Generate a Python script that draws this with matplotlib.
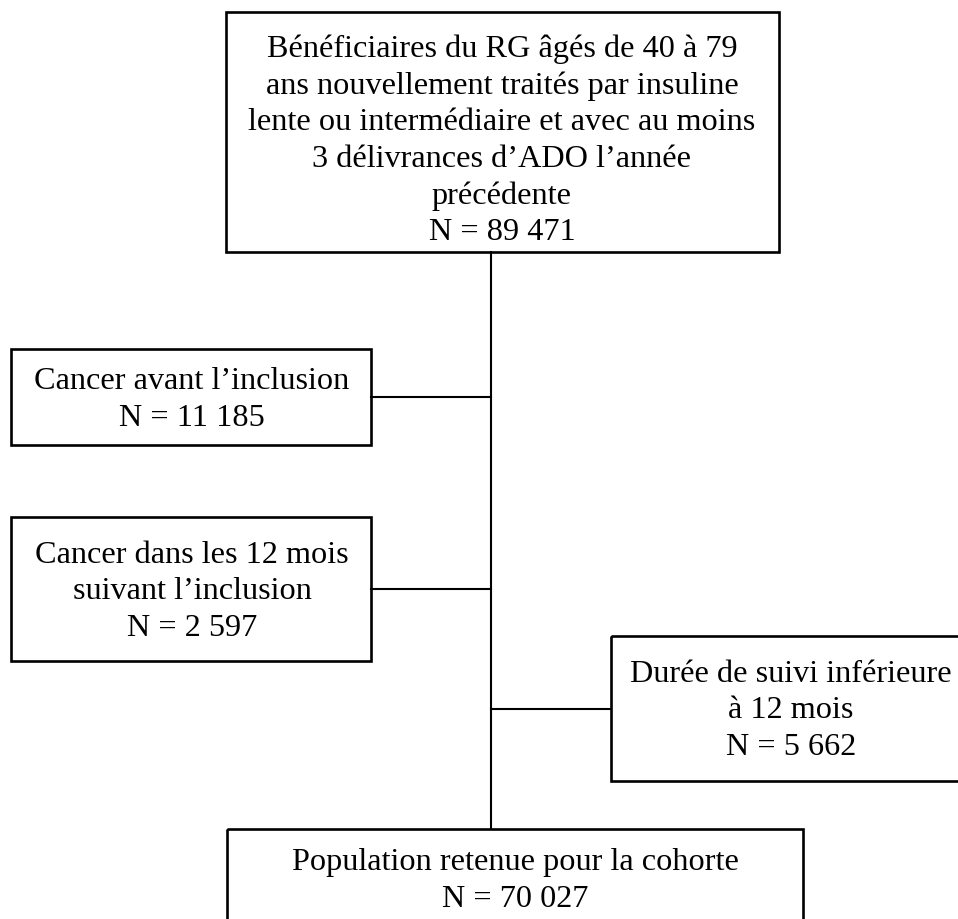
import matplotlib
matplotlib.use("Agg")
import matplotlib.pyplot as plt
from matplotlib.patches import Rectangle

# box texts (flowchart content)
box_labels = [
    ["Bénéficiaires du RG âgés de 40 à 79",
     "ans nouvellement traités par insuline",
     "lente ou intermédiaire et avec au moins",
     "3 délivrances d’ADO l’année",
     "précédente"],
    ["Cancer avant l’inclusion"],
    ["Cancer dans les 12 mois", "suivant l’inclusion"],
    ["Durée de suivi inférieure", "à 12 mois"],
    ["Population retenue pour la cohorte"],
]
box_counts = ["89 471", "11 185", "2 597", "5 662", "70 027"]

# layout in pixels (x0, y0, x1, y1), y going down
box_pos = [
    (226, 13, 779, 253),
    (11, 350, 371, 446),
    (11, 518, 371, 662),
    (611, 637, 972, 782),
    (227, 830, 803, 930),
]
text_cx = [502, 192, 192, 791, 515]
text_cy = [141, 400, 592, 711, 881]
spine_x = 491
line_step = 36.6

fig = plt.figure(figsize=(9.58, 9.20), dpi=100)
ax = fig.add_axes([0, 0, 1, 1])
ax.set_xlim(0, 958)
ax.set_ylim(920, 0)
ax.axis("off")

font = dict(family="Liberation Serif", fontsize=23.2, color="black",
            ha="center", va="center")

for lines, n, (x0, y0, x1, y1), cx, cy in zip(box_labels, box_counts, box_pos, text_cx, text_cy):
    ax.add_patch(Rectangle((x0, y0), x1 - x0, y1 - y0, fill=False,
                           edgecolor="black", linewidth=1.9, clip_on=False))
    all_lines = lines + [f"N = {n}"]
    start = cy - line_step * (len(all_lines) - 1) / 2
    for i, t in enumerate(all_lines):
        ax.text(cx, start + i * line_step, t, **font)

# connectors
lw = 1.5
ax.plot([spine_x, spine_x], [box_pos[0][3], box_pos[4][1]], color="black", lw=lw)
for b in (1, 2):
    x0, y0, x1, y1 = box_pos[b]
    ax.plot([x1, spine_x], [(y0 + y1) / 2] * 2, color="black", lw=lw)
x0, y0, x1, y1 = box_pos[3]
ax.plot([spine_x, x0], [(y0 + y1) / 2] * 2, color="black", lw=lw)

fig.savefig("out.png", dpi=100, facecolor="white")
